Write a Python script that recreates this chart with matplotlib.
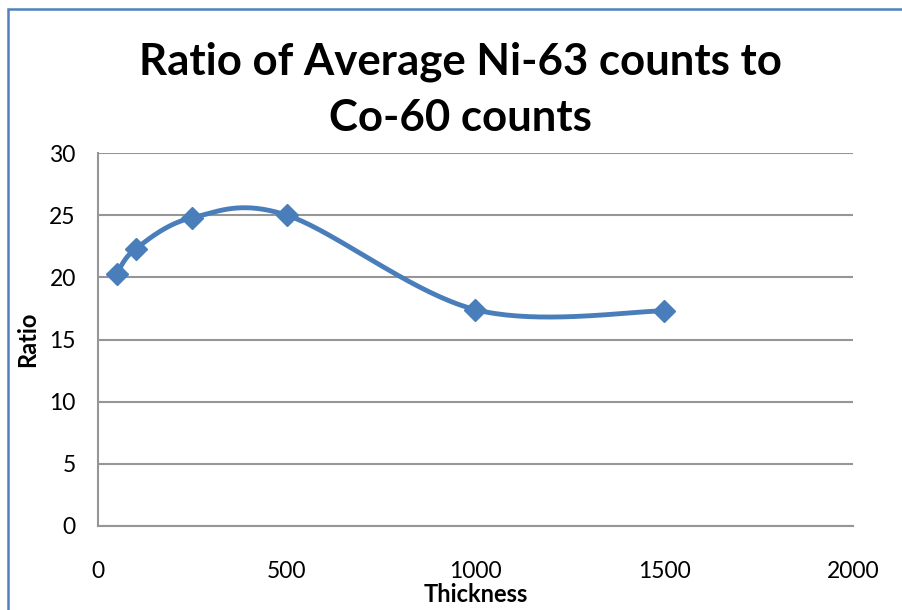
import numpy as np
import matplotlib

matplotlib.use("Agg")
import matplotlib.pyplot as plt  # noqa: E402
from matplotlib.patches import Rectangle  # noqa: E402

plt.rcParams["font.family"] = ["Lato", "DejaVu Sans"]

thickness = [50, 100, 250, 500, 1000, 1500]
ratio = [20.3, 22.3, 24.8, 25.0, 17.4, 17.3]
title_lines = ["Ratio of Average Ni-63 counts to", "Co-60 counts"]

BLUE = "#4A7EBB"
GRID = "#969696"


def smooth(xs, ys, n=40):
    # Excel-style smoothed line: Catmull-Rom turned into cubic Bezier pieces
    p = np.column_stack([xs, ys]).astype(float)
    p = np.vstack([p[0], p, p[-1]])
    t = np.linspace(0, 1, n)[:, None]
    out = []
    for i in range(1, len(p) - 2):
        p0, p1, p2, p3 = p[i - 1], p[i], p[i + 1], p[i + 2]
        c1 = p1 + (p2 - p0) / 6
        c2 = p2 - (p3 - p1) / 6
        seg = ((1 - t) ** 3) * p1 + 3 * ((1 - t) ** 2) * t * c1 + 3 * (1 - t) * t ** 2 * c2 + t ** 3 * p2
        out.append(seg)
    s = np.vstack(out)
    return s[:, 0], s[:, 1]


fig = plt.figure(figsize=(9.03, 6.10), dpi=100)
ax = fig.add_axes([98 / 903, 84 / 610, 755 / 903, 373 / 610])

sx, sy = smooth(thickness, ratio)
ax.plot(sx, sy, color=BLUE, lw=3.5, solid_capstyle="round", zorder=3)
ax.plot(thickness, ratio, "D", color=BLUE, ms=11, zorder=4)

ax.set_xlim(0, 2000)
ax.set_ylim(0, 30)
ax.set_xticks(range(0, 2001, 500))
ax.set_yticks(range(0, 31, 5))
ax.grid(axis="y", color=GRID, lw=1.5)
ax.set_axisbelow(True)
ax.tick_params(length=0, labelsize=16.5)
ax.tick_params(axis="y", pad=16)
ax.tick_params(axis="x", pad=25)
for s in ("top", "right"):
    ax.spines[s].set_visible(False)
for s in ("left", "bottom"):
    ax.spines[s].set_color(GRID)
    ax.spines[s].set_linewidth(1.5)

ax.set_xlabel("Thickness", fontsize=17, fontweight="bold", labelpad=1)
ax.set_ylabel("Ratio", fontsize=17, fontweight="bold", labelpad=7)

fig.text(460 / 903, 1 - 62 / 610, title_lines[0], ha="center", va="center", fontsize=31.5, fontweight="bold")
fig.text(460 / 903, 1 - 118 / 610, title_lines[1], ha="center", va="center", fontsize=31.5, fontweight="bold")

# chart frame (only left and top edges show in the crop)
fig.add_artist(Rectangle((8 / 903, -0.1), 1.2, 1.1 - 8.5 / 610, transform=fig.transFigure,
                         fill=False, ec="#4F81BD", lw=1.8))

fig.savefig("out.png", dpi=100)
